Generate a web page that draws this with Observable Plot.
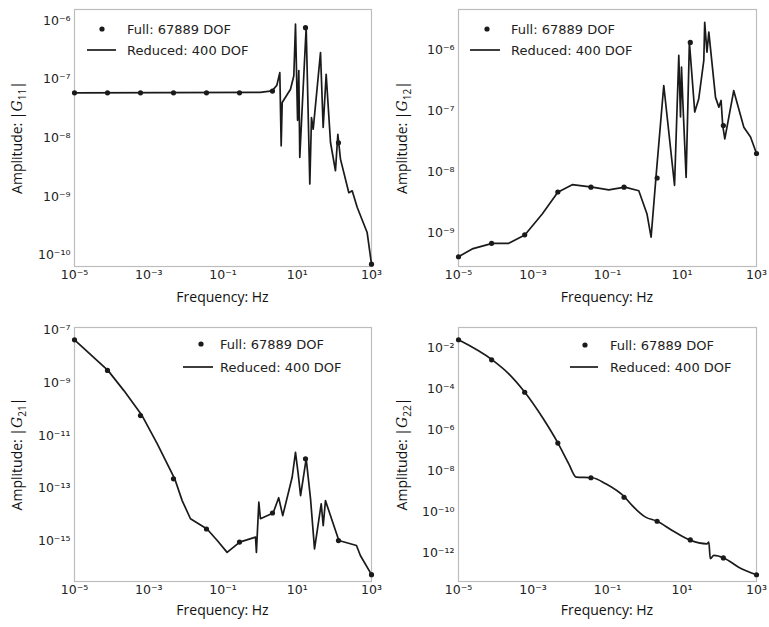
<!DOCTYPE html>
<html>
<head>
<meta charset="utf-8">
<script src="https://cdn.jsdelivr.net/npm/d3@7"></script>
<script src="https://cdn.jsdelivr.net/npm/@observablehq/plot@0.6"></script>
<style>
  html, body { margin: 0; padding: 0; background: #fff; }
  #wrap { position: relative; width: 769px; height: 627px; overflow: hidden; background: #fff; }
  .panel { position: absolute; }
  .panel svg { overflow: visible; }
</style>
</head>
<body>
<div id="wrap"></div>
<script>
// ---------- data ----------
const xTicks = [1e-5, 1e-3, 1e-1, 1e1, 1e3];
const fullFreq = [1e-5, 7.74e-5, 5.99e-4, 4.64e-3, 3.59e-2, 0.278, 2.15, 16.7, 129, 1000];
const legendFull = "Full: 67889 DOF";
const legendReduced = "Reduced: 400 DOF";

// G11
const g11Freq = [1e-5, 1, 2.11, 2.82, 3.39, 3.69, 3.93, 6.58, 8.09, 8.97, 10.2, 11.0, 11.7, 13.8, 17.4, 21.8, 24.2, 26.9, 42.3, 49.9, 60.1, 78.7, 107, 124, 146, 245, 302, 411, 764, 1000];
const g11Amp  = [5.89e-8, 6.0e-8, 6.35e-8, 7.94e-8, 1.30e-7, 7.36e-9, 4.02e-8, 6.78e-8, 1.15e-7, 8.71e-7, 2.0e-8, 1.41e-7, 4.68e-9, 4.02e-8, 7.60e-7, 1.64e-9, 2.23e-8, 1.41e-8, 2.85e-7, 1.51e-8, 1.22e-7, 8.38e-9, 2.77e-9, 1.16e-8, 4.37e-9, 1.17e-9, 1.26e-9, 6.61e-10, 2.45e-10, 7.08e-11];
const g11Full = [5.89e-8, 5.89e-8, 5.89e-8, 5.89e-8, 5.89e-8, 5.89e-8, 6.3e-8, 7.6e-7, 8.3e-9, 7.08e-11];
const g11YTicks = [1e-10, 1e-9, 1e-8, 1e-7, 1e-6];

// G12
const g12Freq = [1e-5, 2.33e-5, 8.04e-5, 2.24e-4, 6.03e-4, 1.77e-3, 4.63e-3, 1.13e-2, 3.89e-2, 0.108, 0.292, 0.692, 1.15, 1.48, 2.0, 3.24, 6.31, 8.20, 9.12, 9.70, 10.5, 12.9, 15.8, 22.0, 28.2, 38.5, 40.7, 46.8, 52.5, 79.4, 97.7, 112, 124, 141, 245, 457, 692, 1000];
const g12Amp  = [4.08e-10, 5.47e-10, 6.76e-10, 6.76e-10, 9.27e-10, 2.04e-9, 4.63e-9, 6.17e-9, 5.62e-9, 5.07e-9, 5.62e-9, 4.90e-9, 2.04e-9, 8.51e-10, 8.13e-9, 2.60e-7, 6.03e-9, 8.07e-7, 7.94e-8, 5.19e-7, 1.48e-7, 8.13e-9, 1.33e-6, 9.55e-8, 1.58e-7, 6.68e-7, 2.82e-6, 9.12e-7, 1.95e-6, 1.66e-7, 1.15e-7, 1.48e-7, 5.75e-8, 3.47e-8, 2.14e-7, 5.37e-8, 3.72e-8, 2.0e-8];
const g12Full = [4.07e-10, 6.76e-10, 9.33e-10, 4.68e-9, 5.62e-9, 5.62e-9, 7.94e-9, 1.32e-6, 5.75e-8, 2.0e-8];
const g12YTicks = [1e-9, 1e-8, 1e-7, 1e-6];

// G21
const g21Freq = [1e-5, 7.94e-5, 2.14e-4, 6.61e-4, 1.70e-3, 5.01e-3, 7.94e-3, 1.33e-2, 3.72e-2, 7.0e-2, 0.129, 0.282, 0.752, 0.794, 0.923, 1.02, 2.24, 3.16, 4.07, 7.29, 8.97, 10.6, 12.3, 17.4, 22.8, 29.2, 44.2, 50.1, 57.5, 132, 394, 501, 1000];
const g21Amp  = [4.42e-8, 3.02e-9, 5.13e-10, 5.75e-11, 4.79e-12, 2.24e-13, 3.31e-14, 6.76e-15, 2.75e-15, 1e-15, 3.55e-16, 8.71e-16, 1.35e-15, 3.55e-16, 2.88e-14, 6.76e-15, 1.12e-14, 4.27e-14, 8.91e-15, 2.57e-13, 2.29e-12, 3.47e-13, 5.13e-14, 1.29e-12, 3.89e-14, 4.79e-16, 2.51e-14, 3.72e-15, 3.31e-14, 1e-15, 6.46e-16, 2.69e-16, 5.01e-17];
const g21Full = [4.42e-8, 3.02e-9, 5.75e-11, 2.24e-13, 2.75e-15, 8.71e-16, 1.12e-14, 1.29e-12, 1e-15, 5.01e-17];
const g21YTicks = [1e-15, 1e-13, 1e-11, 1e-9, 1e-7];

// G22
const g22Freq = [1e-5, 8.04e-5, 2.24e-4, 6.03e-4, 1.78e-3, 4.68e-3, 9.12e-3, 1.45e-2, 3.89e-2, 8.91e-2, 0.292, 0.457, 1.05, 2.14, 5.46, 15.8, 46.8, 52.5, 57.5, 71.6, 132, 331, 1000];
const g22Amp  = [2.57e-2, 2.69e-3, 5.62e-4, 7.08e-5, 4.27e-6, 2.34e-7, 2.29e-8, 5.13e-9, 4.79e-9, 2.45e-9, 5.37e-10, 2.14e-10, 5.75e-11, 3.63e-11, 1.29e-11, 4.47e-12, 2.88e-12, 3.47e-12, 5.37e-13, 7.76e-13, 5.89e-13, 2.09e-13, 8.91e-14];
const g22Full = [2.57e-2, 2.69e-3, 7.08e-5, 2.34e-7, 4.79e-9, 5.37e-10, 3.63e-11, 4.47e-12, 5.89e-13, 8.91e-14];
const g22YTicks = [1e-12, 1e-10, 1e-8, 1e-6, 1e-4, 1e-2];

// ---------- helpers ----------
const SUP = {"-": "\u207B", "0": "\u2070", "1": "\u00B9", "2": "\u00B2", "3": "\u00B3", "4": "\u2074", "5": "\u2075", "6": "\u2076", "7": "\u2077", "8": "\u2078", "9": "\u2079"};
function pow10(d) {
  const e = String(Math.round(Math.log10(d)));
  return "10" + e.split("").map(c => SUP[c]).join("");
}

const panels = [
  {left: 0,   top: 0,   w: 385, h: 310, m: [9, 14, 44, 74],  yDomain: [6.46e-11, 1.55e-6], yTicks: g11YTicks, curve: "linear",
   freq: g11Freq, amp: g11Amp, full: g11Full, sub: "11", legend: {mx: 102, tx: 127, l0: 87, l1: 116, y0: 29, y1: 50}, xlabY: 302},
  {left: 385, top: 0,   w: 384, h: 310, m: [9, 13, 44, 73],  yDomain: [2.82e-10, 4.57e-6], yTicks: g12YTicks, curve: "linear",
   freq: g12Freq, amp: g12Amp, full: g12Full, sub: "12", legend: {mx: 102, tx: 126, l0: 85, l1: 115, y0: 29, y1: 50}, xlabY: 302},
  {left: 0,   top: 310, w: 385, h: 317, m: [17, 14, 46, 74], yDomain: [2.75e-17, 1.30e-7], yTicks: g21YTicks, curve: "linear",
   freq: g21Freq, amp: g21Amp, full: g21Full, sub: "21", legend: {mx: 201, tx: 220, l0: 183, l1: 213, y0: 34, y1: 57}, xlabY: 305},
  {left: 385, top: 310, w: 384, h: 317, m: [17, 13, 46, 73], yDomain: [4.17e-14, 1.02e-1], yTicks: g22YTicks, curve: "monotone-x",
   freq: g22Freq, amp: g22Amp, full: g22Full, sub: "22", legend: {mx: 200, tx: 225, l0: 185, l1: 213, y0: 35, y1: 57}, xlabY: 305}
];

const wrap = document.getElementById("wrap");
const INK = "#1a1a1a";

for (const p of panels) {
  const [mt, mr, mb, ml] = p.m;
  const reduced = p.freq.map((f, i) => ({f, a: p.amp[i]}));
  const full = fullFreq.map((f, i) => ({f, a: p.full[i]}));
  const svg = Plot.plot({
    width: p.w, height: p.h,
    marginTop: mt, marginRight: mr, marginBottom: mb, marginLeft: ml,
    style: {fontFamily: "DejaVu Sans, sans-serif", fontSize: "12.5px", color: "#222", background: "transparent"},
    x: {type: "log", domain: [1e-5, 1e3], ticks: xTicks, tickFormat: pow10, tickSize: 0, tickPadding: 4, label: null},
    y: {type: "log", domain: p.yDomain, ticks: p.yTicks, tickFormat: pow10, tickSize: 0, tickPadding: 4, label: null},
    marks: [
      Plot.frame({stroke: "#bdbdbd", strokeWidth: 1.2}),
      Plot.line(reduced, {x: "f", y: "a", stroke: INK, strokeWidth: 1.7, strokeLinejoin: "round", curve: p.curve}),
      Plot.dot(full, {x: "f", y: "a", r: 2.6, fill: INK, stroke: "none"})
    ]
  });
  const div = document.createElement("div");
  div.className = "panel";
  div.style.left = p.left + "px";
  div.style.top = p.top + "px";
  div.appendChild(svg);
  wrap.appendChild(div);

  const s = d3.select(svg);
  // legend
  const lg = s.append("g").attr("font-family", "DejaVu Sans, sans-serif").attr("font-size", 13)
    .attr("fill", "#222").attr("text-anchor", "start");
  lg.append("circle").attr("cx", p.legend.mx).attr("cy", p.legend.y0).attr("r", 2.6).attr("fill", INK);
  lg.append("text").attr("x", p.legend.tx).attr("y", p.legend.y0).attr("dy", "0.35em").text(legendFull);
  lg.append("line").attr("x1", p.legend.l0).attr("x2", p.legend.l1).attr("y1", p.legend.y1).attr("y2", p.legend.y1)
    .attr("stroke", INK).attr("stroke-width", 1.7);
  lg.append("text").attr("x", p.legend.tx).attr("y", p.legend.y1).attr("dy", "0.35em").text(legendReduced);

  // axis labels
  const cx = ml + (p.w - ml - mr) / 2;
  const cy = mt + (p.h - mt - mb) / 2;
  s.append("text").attr("x", cx).attr("y", p.xlabY).attr("text-anchor", "middle")
    .attr("font-family", "Open Sans, sans-serif").attr("font-size", 14).attr("fill", "#111")
    .text("Frequency: Hz");
  const yl = s.append("text").attr("transform", `translate(${22},${cy}) rotate(-90)`).attr("text-anchor", "middle")
    .attr("font-family", "Open Sans, sans-serif").attr("font-size", 14).attr("fill", "#111");
  yl.append("tspan").text("Amplitude: |");
  yl.append("tspan").attr("font-style", "italic").attr("font-family", "DejaVu Serif, serif").text("G");
  yl.append("tspan").attr("font-size", 10).attr("dy", 4).text(p.sub);
  yl.append("tspan").attr("dy", -4).text("|");
}
</script>
</body>
</html>
